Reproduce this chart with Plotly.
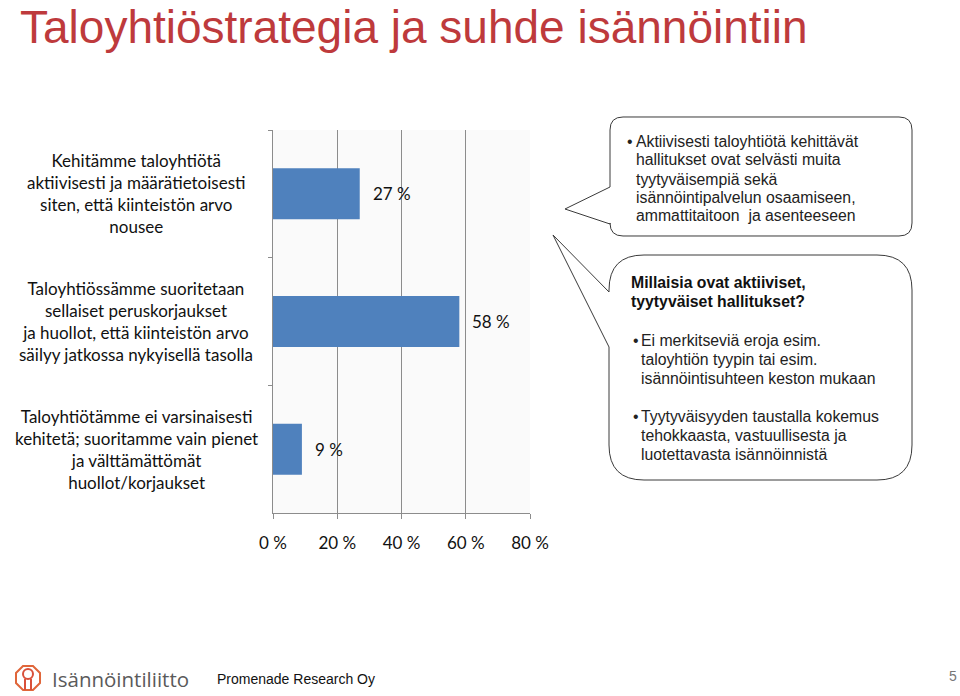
import math
import plotly.graph_objects as go

W, H = 960, 696

# ---- data ----
categories = [
    "Kehitämme taloyhtiötä<br>aktiivisesti ja määrätietoisesti<br>siten, että kiinteistön arvo<br>nousee",
    "Taloyhtiössämme suoritetaan<br>sellaiset peruskorjaukset<br>ja huollot, että kiinteistön arvo<br>säilyy jatkossa nykyisellä tasolla",
    "Taloyhtiötämme ei varsinaisesti<br>kehitetä; suoritamme vain pienet<br>ja välttämättömät<br>huollot/korjaukset",
]
values = [27, 58, 9]
tick_vals = [0, 20, 40, 60, 80]
tick_text = ["0 %", "20 %", "40 %", "60 %", "80 %"]

title_text = "Taloyhtiöstrategia ja suhde isännöintiin"
box1_lines = ["Aktiivisesti taloyhtiötä kehittävät", "hallitukset ovat selvästi muita",
              "tyytyväisempiä sekä", "isännöintipalvelun osaamiseen,",
              "ammattitaitoon  ja asenteeseen"]
box2_head = ["Millaisia ovat aktiiviset,", "tyytyväiset hallitukset?"]
box2_b1 = ["Ei merkitseviä eroja esim.", "taloyhtiön tyypin tai esim.",
           "isännöintisuhteen keston mukaan"]
box2_b2 = ["Tyytyväisyyden taustalla kokemus", "tehokkaasta, vastuullisesta ja",
           "luotettavasta isännöinnistä"]


def px(x):
    return x / W


def py(y):
    return 1 - y / H


def callout(x0, y0, x1, y1, r, tail_up, tip, tail_low):
    P = lambda x, y: f"{px(x):.5f},{py(y):.5f}"
    d = (
        f"M {P(x0 + r, y0)} L {P(x1 - r, y0)} Q {P(x1, y0)} {P(x1, y0 + r)} "
        f"L {P(x1, y1 - r)} Q {P(x1, y1)} {P(x1 - r, y1)} "
        f"L {P(x0 + r, y1)} Q {P(x0, y1)} {P(x0, y1 - r)} "
        f"L {P(x0, tail_low)} L {P(*tip)} L {P(x0, tail_up)} "
        f"L {P(x0, y0 + r)} Q {P(x0, y0)} {P(x0 + r, y0)} Z"
    )
    return dict(type="path", xref="paper", yref="paper", path=d,
                line=dict(color="#3a3a3a", width=1), fillcolor="white", layer="above")


fig = go.Figure()
fig.add_trace(go.Bar(
    x=values, y=categories, orientation="h", width=0.4,
    marker=dict(color="#4F81BD", line=dict(width=0)),
    hoverinfo="skip",
))

axis_col = "#8C8C8C"
fig.update_layout(
    width=W, height=H, autosize=False,
    margin=dict(l=0, r=0, t=0, b=0, pad=0, autoexpand=False),
    paper_bgcolor="white",
    plot_bgcolor="#FAFAFA",
    showlegend=False,
    xaxis=dict(
        domain=[273 / W, 530 / W], range=[0, 80], automargin=False,
        tickmode="array", tickvals=tick_vals, ticktext=tick_text,
        showgrid=True, gridcolor=axis_col, gridwidth=1,
        showline=True, linecolor=axis_col, linewidth=1,
        ticks="outside", ticklen=5, tickcolor=axis_col,
        zeroline=False, fixedrange=True,
        tickfont=dict(family="Lato", size=17, color="#111"),
        ticklabelstandoff=10,
    ),
    yaxis=dict(
        domain=[1 - 513 / H, 1 - 130 / H], automargin=False,
        type="category", autorange="reversed",
        showticklabels=False, tickson="boundaries",
        ticks="outside", ticklen=4, tickcolor=axis_col,
        showline=True, linecolor=axis_col, linewidth=1,
        showgrid=False, zeroline=False, fixedrange=True,
    ),
)

ann = []
ann.append(dict(text=title_text, x=px(19), y=py(0), xref="paper", yref="paper",
                xanchor="left", yanchor="top", showarrow=False, borderpad=0,
                font=dict(family="Liberation Sans", size=46, color="#BE3A3C")))
for c in categories:
    ann.append(dict(text=c, x=px(136), y=c, xref="paper", yref="y",
                    xanchor="center", yanchor="middle", align="center", showarrow=False,
                    font=dict(family="Lato", size=17, color="#111")))
for c, v in zip(categories, values):
    ann.append(dict(text=f"{v} %", x=v, y=c, xref="x", yref="y",
                    xanchor="left", yanchor="middle", xshift=11, showarrow=False,
                    font=dict(family="Lato", size=17, color="#111")))

tf = dict(family="Liberation Sans", size=15.8, color="#222")
tfb = dict(family="Liberation Sans", size=15.8, color="#111", weight="bold")


def line(t, x, y, font=tf):
    ann.append(dict(text=t, x=px(x), y=py(y), xref="paper", yref="paper",
                    xanchor="left", yanchor="middle", align="left", showarrow=False, font=font))


def block(lines, x, ys, font=tf, bullet_x=None):
    if bullet_x is not None:
        line("•", bullet_x, ys[0], font)
    for t, y in zip(lines, ys):
        line(t, x, y, font)


block(box1_lines, 634, [141, 160, 179, 197.5, 216], bullet_x=625)
block(box2_head, 629, [282, 301], font=tfb)
block(box2_b1, 639, [340, 359.5, 378.5], bullet_x=631)
block(box2_b2, 639, [416.5, 435.5, 454.5], bullet_x=631)

ann.append(dict(text="Isännöintiliitto", x=px(50), y=py(679), xref="paper", yref="paper",
                xanchor="left", yanchor="middle", showarrow=False,
                font=dict(family="Open Sans", size=20.5, color="#5a5a5a")))
ann.append(dict(text="Promenade Research Oy", x=px(215), y=py(679), xref="paper", yref="paper",
                xanchor="left", yanchor="middle", showarrow=False,
                font=dict(family="Liberation Sans", size=14, color="#111")))
ann.append(dict(text="5", x=px(959), y=py(676), xref="paper", yref="paper",
                xanchor="right", yanchor="middle", showarrow=False,
                font=dict(family="Liberation Sans", size=14, color="#777")))

shapes = [
    callout(610, 117, 912, 236, 13, 187, (565, 209), 224),
    callout(609, 255, 912, 480, 35, 292, (553, 235), 347),
]
cx, cy, R = 28, 678, 13
pts = []
for k in range(8):
    a = math.pi / 8 + k * math.pi / 4
    pts.append((cx + R * math.cos(a), cy + R * math.sin(a)))
d = "M " + " L ".join(f"{px(x):.5f},{py(y):.5f}" for x, y in pts) + " Z"
shapes.append(dict(type="path", xref="paper", yref="paper", path=d,
                   line=dict(color="#E0663A", width=2), fillcolor="rgba(0,0,0,0)"))
shapes.append(dict(type="circle", xref="paper", yref="paper",
                   x0=px(cx - 5), x1=px(cx + 5), y0=py(cy + 1), y1=py(cy - 9),
                   line=dict(color="#D9503A", width=2), fillcolor="rgba(0,0,0,0)"))
shapes.append(dict(type="path", xref="paper", yref="paper",
                   path=f"M {px(cx-3):.5f},{py(cy+1):.5f} L {px(cx-3):.5f},{py(cy+R-1):.5f} M {px(cx+3):.5f},{py(cy+1):.5f} L {px(cx+3):.5f},{py(cy+R-1):.5f}",
                   line=dict(color="#D9503A", width=2)))

fig.update_layout(annotations=ann, shapes=shapes)
fig.write_html("out.html")
